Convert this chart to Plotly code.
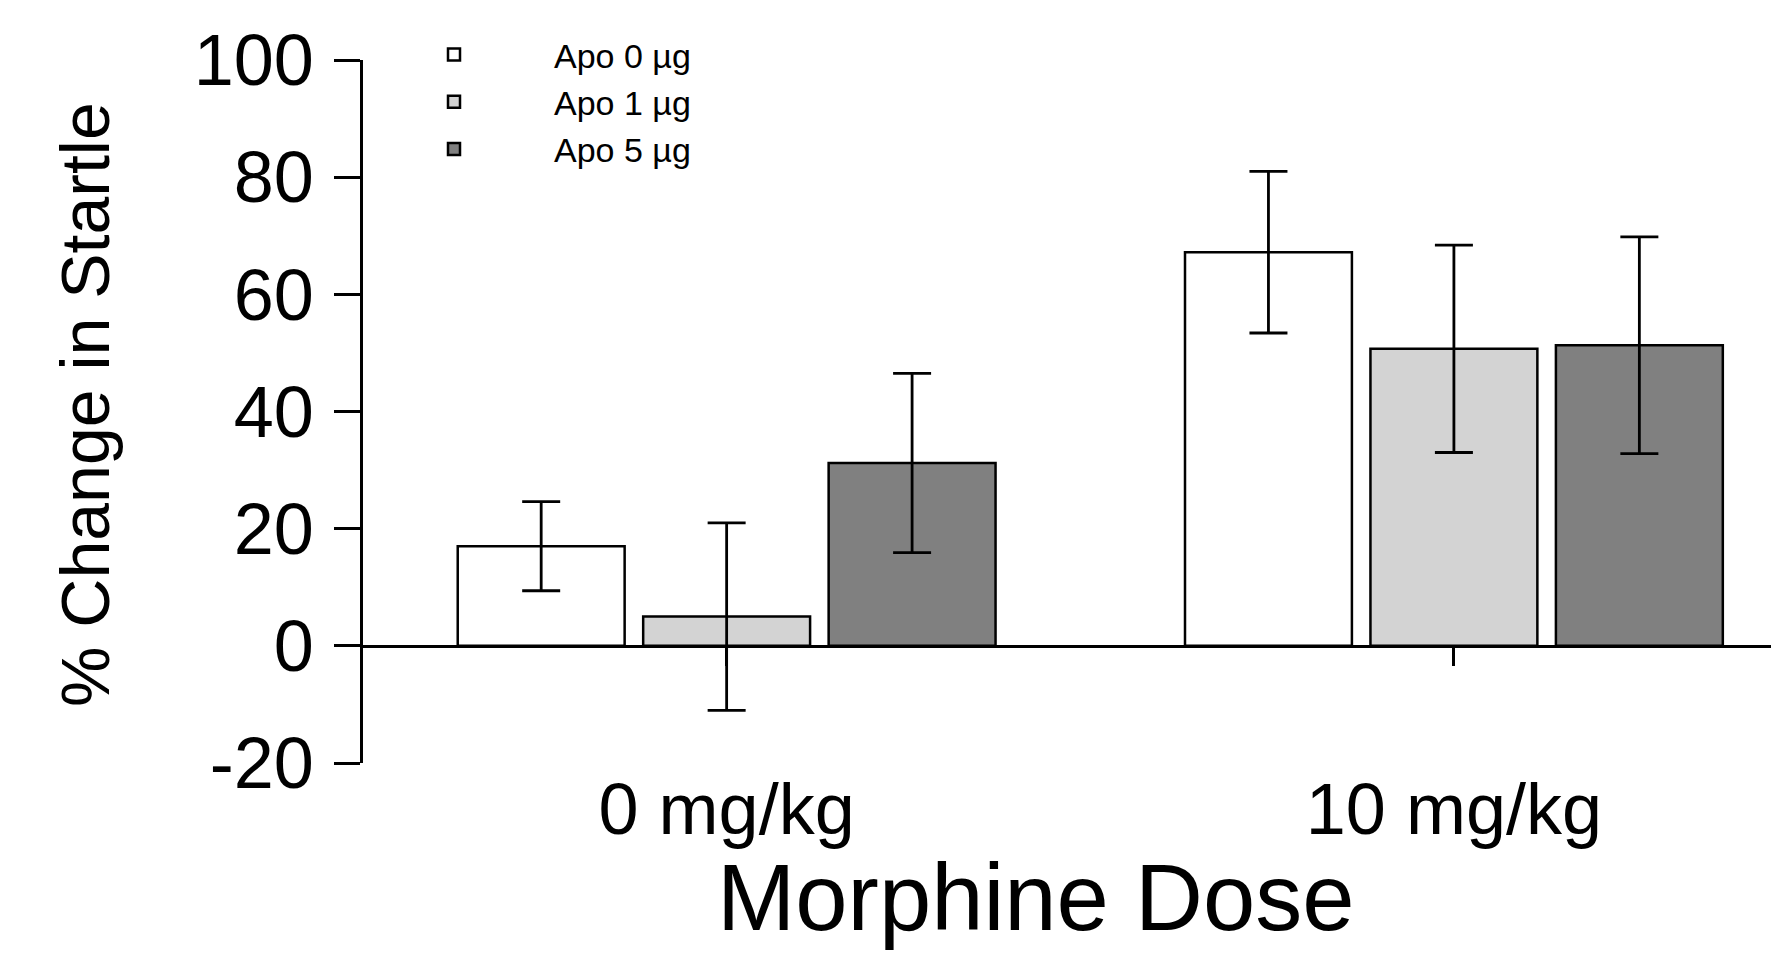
import plotly.graph_objects as go

# ---- data ----
doses = ["0 mg/kg", "10 mg/kg"]
series_names = ["Apo 0 µg", "Apo 1 µg", "Apo 5 µg"]
apo0_mean = [17.0, 67.2]
apo0_sem = [7.6, 13.8]
apo1_mean = [5.0, 50.7]
apo1_sem = [16.0, 17.7]
apo5_mean = [31.2, 51.3]
apo5_sem = [15.3, 18.5]
y_ticks = [-20, 0, 20, 40, 60, 80, 100]
y_tick_labels = ["-20", "0", "20", "40", "60", "80", "100"]

means = [apo0_mean, apo1_mean, apo5_mean]
sems = [apo0_sem, apo1_sem, apo5_sem]
fills = ["#ffffff", "#d3d3d3", "#808080"]

# the page body has an 8px margin, so the figure is 8px smaller on each axis
W, H = 1771, 946
ymin, ymax = -20, 100
L, R, T, B = 355, 0, 52, 191
plot_w = W - L - R
plot_h = H - T - B

fig = go.Figure()
for name, m, s, c in zip(series_names, means, sems, fills):
    fig.add_trace(go.Bar(
        x=doses, y=m, name=name,
        marker=dict(color=c, line=dict(color="black", width=2.5)),
        error_y=dict(type="data", array=s, visible=True,
                     color="black", thickness=2.8, width=19),
    ))

font_main = "Liberation Sans, Arial, sans-serif"
fig.update_layout(
    width=W, height=H,
    paper_bgcolor="white", plot_bgcolor="white",
    margin=dict(l=L, r=R, t=T, b=B, pad=0, autoexpand=False),
    barmode="group", bargap=0.235, bargroupgap=0.1,
    font=dict(family=font_main, color="black"),
    showlegend=True,
    legend=dict(
        xref="container", yref="container",
        x=346 / W, y=1 - 18 / H, xanchor="left", yanchor="top",
        bgcolor="rgba(0,0,0,0)", font=dict(size=34, family=font_main),
        itemwidth=190, tracegroupgap=0, traceorder="normal",
    ),
    xaxis=dict(
        type="category", range=[-0.5, 1.447],
        anchor="free", position=(0 - ymin) / (ymax - ymin),
        showline=True, linecolor="black", linewidth=2.5,
        ticks="outside", ticklen=18, tickwidth=2.5, tickcolor="black",
        tickfont=dict(size=72, family=font_main),
        ticklabelstandoff=82,
        showgrid=False, zeroline=False,
    ),
    yaxis=dict(
        range=[ymin, ymax], tickvals=y_ticks, ticktext=y_tick_labels,
        showline=True, linecolor="black", linewidth=2.5,
        ticks="outside", ticklen=26, tickwidth=2.5, tickcolor="black",
        tickfont=dict(size=72, family=font_main),
        ticklabelstandoff=6,
        showgrid=False, zeroline=False,
    ),
    annotations=[
        dict(
            text="% Change in Startle", xref="paper", yref="paper",
            x=(77 - L) / plot_w, y=((H - B) - 397) / plot_h,
            xanchor="center", yanchor="middle", textangle=-90,
            showarrow=False, font=dict(size=68, family=font_main),
        ),
        dict(
            text="Morphine Dose", xref="paper", yref="paper",
            x=(1027 - L) / plot_w, y=-(944 - (H - B)) / plot_h,
            xanchor="center", yanchor="bottom",
            showarrow=False, font=dict(size=94, family=font_main),
        ),
    ],
)

fig.write_html("out.html")
